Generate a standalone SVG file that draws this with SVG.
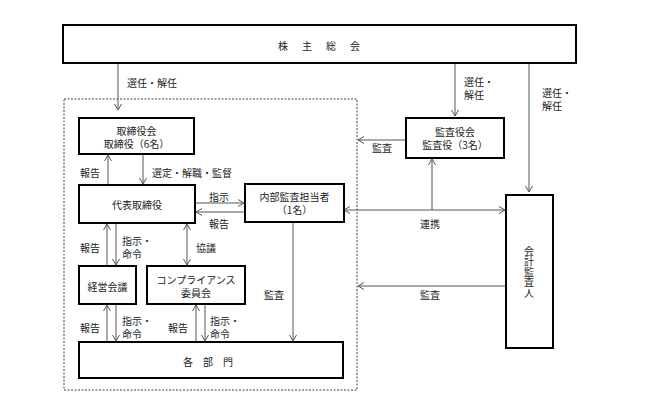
<svg xmlns="http://www.w3.org/2000/svg" width="647" height="418" viewBox="0 0 647 418">
<style>
.box{fill:#fff;stroke:#000;stroke-width:2}
.c{fill:none;stroke:#555;stroke-width:1}
.t{font-family:"Noto Sans CJK JP","Liberation Sans",sans-serif;font-size:10px;fill:#222;dominant-baseline:central}
.m{text-anchor:middle}
</style>
<defs>
<marker id="a" viewBox="0 0 8 8" refX="7.5" refY="4" markerWidth="8" markerHeight="8" markerUnits="userSpaceOnUse" orient="auto-start-reverse">
<path d="M1.5,0.5 L7.5,4 L1.5,7.5" fill="none" stroke="#555" stroke-width="1"/>
</marker>
</defs>
<rect x="64" y="99" width="293" height="291" fill="none" stroke="#444" stroke-width="1" stroke-dasharray="2,1.5"/>
<g id="connectors">
<line class="c" x1="118" y1="63" x2="118" y2="110" marker-end="url(#a)"/>
<line class="c" x1="455" y1="63" x2="455" y2="116" marker-end="url(#a)"/>
<line class="c" x1="529" y1="63" x2="529" y2="192" marker-end="url(#a)"/>
<line class="c" x1="406" y1="140" x2="358" y2="140" marker-end="url(#a)"/>
<line class="c" x1="344" y1="210" x2="505" y2="210" marker-start="url(#a)" marker-end="url(#a)"/>
<line class="c" x1="432" y1="210" x2="432" y2="159" marker-end="url(#a)"/>
<line class="c" x1="506" y1="286" x2="358" y2="286" marker-end="url(#a)"/>
<line class="c" x1="108" y1="185" x2="108" y2="155" marker-end="url(#a)"/>
<line class="c" x1="143" y1="154" x2="143" y2="184" marker-end="url(#a)"/>
<line class="c" x1="195" y1="203" x2="244" y2="203" marker-end="url(#a)"/>
<line class="c" x1="245" y1="212" x2="196" y2="212" marker-end="url(#a)"/>
<line class="c" x1="107" y1="266" x2="107" y2="224" marker-end="url(#a)"/>
<line class="c" x1="116" y1="223" x2="116" y2="265" marker-end="url(#a)"/>
<line class="c" x1="187" y1="224" x2="187" y2="265" marker-start="url(#a)" marker-end="url(#a)"/>
<line class="c" x1="293" y1="222" x2="293" y2="341" marker-end="url(#a)"/>
<line class="c" x1="107" y1="342" x2="107" y2="305" marker-end="url(#a)"/>
<line class="c" x1="116" y1="304" x2="116" y2="341" marker-end="url(#a)"/>
<line class="c" x1="196" y1="342" x2="196" y2="305" marker-end="url(#a)"/>
<line class="c" x1="205" y1="304" x2="205" y2="341" marker-end="url(#a)"/>
</g>
<g id="labels" class="t">
<text x="127" y="82">選任・解任</text>
<text x="464" y="81">選任・</text>
<text x="464" y="94">解任</text>
<text x="542" y="92">選任・</text>
<text x="542" y="105">解任</text>
<text x="372" y="147">監査</text>
<text x="80" y="172">報告</text>
<text x="152" y="172">選定・解職・監督</text>
<text x="209" y="196">指示</text>
<text x="209" y="223">報告</text>
<text x="80" y="247">報告</text>
<text x="122" y="240">指示・</text>
<text x="122" y="253">命令</text>
<text x="196" y="247">協議</text>
<text x="264" y="294">監査</text>
<text x="420" y="223">連携</text>
<text x="420" y="294">監査</text>
<text x="80" y="327">報告</text>
<text x="122" y="320">指示・</text>
<text x="122" y="333">命令</text>
<text x="168" y="327">報告</text>
<text x="210" y="320">指示・</text>
<text x="210" y="333">命令</text>
</g>
<g id="shareholders">
<rect class="box" x="63" y="25" width="513" height="38"/>
<text class="t m" x="283 307 331 355" y="45">株主総会</text>
</g>
<g id="board">
<rect class="box" x="79" y="118" width="115" height="36"/>
<text class="t m" x="136.5" y="130">取締役会</text>
<text class="t m" x="136.5" y="143">取締役（6名）</text>
</g>
<g id="ceo">
<rect class="box" x="79" y="185" width="116" height="38"/>
<text class="t m" x="137" y="204">代表取締役</text>
</g>
<g id="internal-audit">
<rect class="box" x="245" y="184" width="99" height="38"/>
<text class="t m" x="294.5" y="196">内部監査担当者</text>
<text class="t m" x="294.5" y="209">（1名）</text>
</g>
<g id="management-meeting">
<rect class="box" x="79" y="266" width="57" height="38"/>
<text class="t m" x="107.5" y="286">経営会議</text>
</g>
<g id="compliance">
<rect class="box" x="147" y="266" width="98" height="38"/>
<text class="t m" x="196" y="279">コンプライアンス</text>
<text class="t m" x="196" y="292">委員会</text>
</g>
<g id="departments">
<rect class="box" x="79" y="342" width="264" height="36"/>
<text class="t m" x="188 208 228" y="361">各部門</text>
</g>
<g id="auditors">
<rect class="box" x="406" y="118" width="98" height="40"/>
<text class="t m" x="455" y="131">監査役会</text>
<text class="t m" x="455" y="144">監査役（3名）</text>
</g>
<g id="accounting-auditor">
<rect class="box" x="506" y="195" width="47" height="153"/>
<text class="t m" x="529 529 529 529 529" y="250 260.5 271 281.5 292">会計監査人</text>
</g>
</svg>
